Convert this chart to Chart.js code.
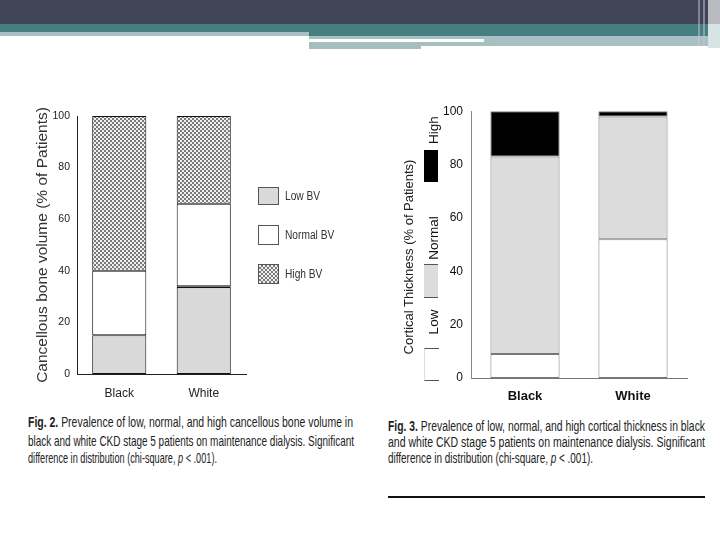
<!DOCTYPE html>
<html>
<head>
<meta charset="utf-8">
<script src="https://cdn.jsdelivr.net/npm/chart.js@4.4.0/dist/chart.umd.min.js"></script>
<style>
  html,body{margin:0;padding:0;background:#fff;}
  body{width:720px;height:540px;position:relative;overflow:hidden;font-family:"Liberation Sans",Arial,sans-serif;}
  .abs{position:absolute;}
  canvas{position:absolute;}
  .rot{position:absolute;white-space:nowrap;transform:translate(-50%,-50%) rotate(-90deg);}
  .cap{position:absolute;white-space:nowrap;font-family:"Liberation Sans Narrow","Arial Narrow","Liberation Sans",sans-serif;color:#222;transform-origin:0 0;}
  .leg{position:absolute;font-family:"Liberation Sans",Arial,sans-serif;font-size:12px;color:#333;line-height:12px;transform-origin:0 50%;transform:scaleX(0.85);}
</style>
</head>
<body>
<!-- slide header -->
<div class="abs" style="left:0;top:0;width:720px;height:24px;background:#414356;"></div>
<div class="abs" style="left:0;top:24px;width:720px;height:8px;background:#467e82;"></div>
<div class="abs" style="left:309px;top:32px;width:411px;height:4px;background:#467e82;"></div>
<div class="abs" style="left:0;top:32px;width:309px;height:4px;background:#a7c0c1;"></div>
<div class="abs" style="left:309px;top:36px;width:175px;height:3px;background:#a7c0c1;"></div>
<div class="abs" style="left:484px;top:36px;width:236px;height:10px;background:#a7c0c1;"></div>
<div class="abs" style="left:309px;top:42px;width:112px;height:7px;background:#a7bebf;"></div>
<div class="abs" style="left:421px;top:42px;width:70px;height:4px;background:#a7bebf;"></div>
<div class="abs" style="left:698px;top:0;width:2px;height:46px;background:rgba(200,200,210,0.5);"></div>
<div class="abs" style="left:703px;top:0;width:2px;height:46px;background:rgba(200,200,210,0.5);"></div>
<div class="abs" style="left:708px;top:0;width:12px;height:24px;background:#b9b9c2;"></div>
<div class="abs" style="left:708px;top:24px;width:12px;height:24px;background:#d6e4e4;"></div>

<canvas id="c1" width="230" height="310" style="left:30px;top:96px;"></canvas>
<canvas id="c2" width="320" height="320" style="left:380px;top:96px;"></canvas>

<!-- left legend -->
<div class="abs" style="left:258px;top:187px;width:19px;height:16px;background:#d9d9d9;border:1px solid #555;"></div>
<div class="leg" style="left:285px;top:190px;">Low BV</div>
<div class="abs" style="left:258px;top:225px;width:19px;height:18px;background:#fff;border:1px solid #555;"></div>
<div class="leg" style="left:285px;top:229px;">Normal BV</div>
<div class="abs" style="left:258px;top:264px;width:19px;height:18px;background:repeating-conic-gradient(#7a7a7a 0 25%, #f0f0f0 0 50%) 0 0/4px 4px;border:1px solid #555;"></div>
<div class="leg" style="left:285px;top:268px;">High BV</div>

<!-- right legend (rotated) -->
<div class="abs" style="left:424px;top:348px;width:14px;height:31px;background:#fff;border-top:1px solid #555;border-bottom:1px solid #555;border-left:1px solid #ddd;"></div>
<div class="rot" style="left:433px;top:322px;font-size:13.5px;color:#111;">Low</div>
<div class="abs" style="left:424px;top:264px;width:14px;height:32px;background:#dcdcdc;border-top:1px solid #555;border-bottom:1px solid #555;"></div>
<div class="rot" style="left:433px;top:238px;font-size:13.5px;color:#111;">Normal</div>
<div class="abs" style="left:424px;top:150px;width:14px;height:32px;background:#000;"></div>
<div class="rot" style="left:433px;top:130px;font-size:13.5px;color:#111;">High</div>
<div class="rot" style="left:408px;top:257px;font-size:13px;color:#222;">Cortical Thickness (% of Patients)</div>

<!-- captions -->
<div class="cap fit" data-w="325" style="left:28px;top:414px;font-size:15px;line-height:15px;"><b>Fig. 2.</b> Prevalence of low, normal, and high cancellous bone volume in</div>
<div class="cap fit" data-w="326" style="left:28px;top:433px;font-size:15px;line-height:15px;">black and white CKD stage 5 patients on maintenance dialysis. Significant</div>
<div class="cap fit" data-w="189" style="left:28px;top:450px;font-size:15px;line-height:15px;">difference in distribution (chi-square, <i>p</i> &lt; .001).</div>

<div class="cap fit" data-w="317" style="left:388px;top:419px;font-size:14px;line-height:14px;"><b>Fig. 3.</b> Prevalence of low, normal, and high cortical thickness in black</div>
<div class="cap fit" data-w="317" style="left:388px;top:435px;font-size:14px;line-height:14px;">and white CKD stage 5 patients on maintenance dialysis. Significant</div>
<div class="cap fit" data-w="205" style="left:388px;top:451px;font-size:14px;line-height:14px;">difference in distribution (chi-square, <i>p</i> &lt; .001).</div>
<div class="abs" style="left:388px;top:496px;width:317px;height:2px;background:#111;"></div>

<script>
// ---- data ----
const categories = ['Black', 'White'];
const yTicks = [0, 20, 40, 60, 80, 100];
// Fig. 2: cancellous bone volume (% of patients)
const bvLow = [15, 34];
const bvNormal = [25, 32];
const bvHigh = [60, 34];
// Fig. 3: cortical thickness (% of patients)
const ctLow = [9, 52];
const ctNormal = [74, 46];
const ctHigh = [17, 2];

const SANS = '"Liberation Sans",Arial,sans-serif';

function checkerPattern() {
  const c = document.createElement('canvas');
  c.width = 4; c.height = 4;
  const g = c.getContext('2d');
  g.fillStyle = '#f0f0f0'; g.fillRect(0, 0, 4, 4);
  g.fillStyle = '#7a7a7a'; g.fillRect(0, 0, 2, 2); g.fillRect(2, 2, 2, 2);
  return g.createPattern(c, 'repeat');
}

function setTicks(scale) { scale.ticks = yTicks.map(v => ({ value: v })); }

// ---- Fig. 2 ----
new Chart(document.getElementById('c1'), {
  type: 'bar',
  data: {
    labels: categories,
    datasets: [
      { label: 'Low BV', data: bvLow, backgroundColor: '#d9d9d9', borderColor: '#111',
        borderWidth: ctx => ctx.dataIndex === 1 ? { top: 2, left: 1, right: 1, bottom: 1 } : 1 },
      { label: 'Normal BV', data: bvNormal, backgroundColor: '#ffffff', borderColor: '#111', borderWidth: 1 },
      { label: 'High BV', data: bvHigh, backgroundColor: checkerPattern(), borderColor: '#111', borderWidth: 1 }
    ]
  },
  options: {
    responsive: false, animation: false,
    layout: { padding: { top: 20, right: 14, left: 0, bottom: 0 } },
    datasets: { bar: { barPercentage: 0.8, categoryPercentage: 0.8, borderSkipped: false } },
    plugins: { legend: { display: false }, tooltip: { enabled: false } },
    scales: {
      x: {
        stacked: true,
        grid: { display: false, drawTicks: false },
        border: { display: true, color: '#222', width: 1 },
        ticks: { color: '#222', padding: 12, font: { family: SANS, size: 12 } },
        afterFit: s => { s.height = 32; }
      },
      y: {
        stacked: true, min: 0, max: 100,
        afterBuildTicks: setTicks,
        grid: { display: false, drawTicks: false },
        border: { display: true, color: '#222', width: 1 },
        ticks: { color: '#222', padding: 7, font: { family: SANS, size: 10.5 } },
        title: { display: true, text: 'Cancellous bone volume (% of Patients)', color: '#333',
                 padding: { top: 3, bottom: 0 }, font: { family: SANS, size: 15.5 } },
        afterFit: s => { s.width = 47; }
      }
    }
  }
});

// ---- Fig. 3 ----
new Chart(document.getElementById('c2'), {
  type: 'bar',
  data: {
    labels: categories,
    datasets: [
      { label: 'Low', data: ctLow, backgroundColor: '#ffffff', borderColor: '#777', borderWidth: 1 },
      { label: 'Normal', data: ctNormal, backgroundColor: '#dcdcdc', borderColor: '#777', borderWidth: 1 },
      { label: 'High', data: ctHigh, backgroundColor: '#000000', borderColor: '#555', borderWidth: 1 }
    ]
  },
  options: {
    responsive: false, animation: false,
    layout: { padding: { top: 12, right: 13, left: 0, bottom: 0 } },
    datasets: { bar: { barPercentage: 0.8, categoryPercentage: 0.8, borderSkipped: false } },
    plugins: { legend: { display: false }, tooltip: { enabled: false } },
    scales: {
      x: {
        stacked: true,
        grid: { display: false, drawTicks: false },
        border: { display: true, color: '#777', width: 1 },
        ticks: { color: '#111', padding: 11, font: { family: SANS, size: 13, weight: 'bold' } },
        afterFit: s => { s.height = 38; }
      },
      y: {
        stacked: true, min: 0, max: 100,
        afterBuildTicks: setTicks,
        grid: { display: false, drawTicks: false },
        border: { display: true, color: '#888', width: 1 },
        ticks: { color: '#111', padding: 8, font: { family: SANS, size: 12 } },
        afterFit: s => { s.width = 91; }
      }
    }
  }
});

// fit caption lines to the widths of the reference
document.querySelectorAll('.fit').forEach(el => {
  const w = el.getBoundingClientRect().width;
  const target = parseFloat(el.dataset.w);
  if (w > 0) el.style.transform = 'scaleX(' + (target / w) + ')';
});
</script>
</body>
</html>
